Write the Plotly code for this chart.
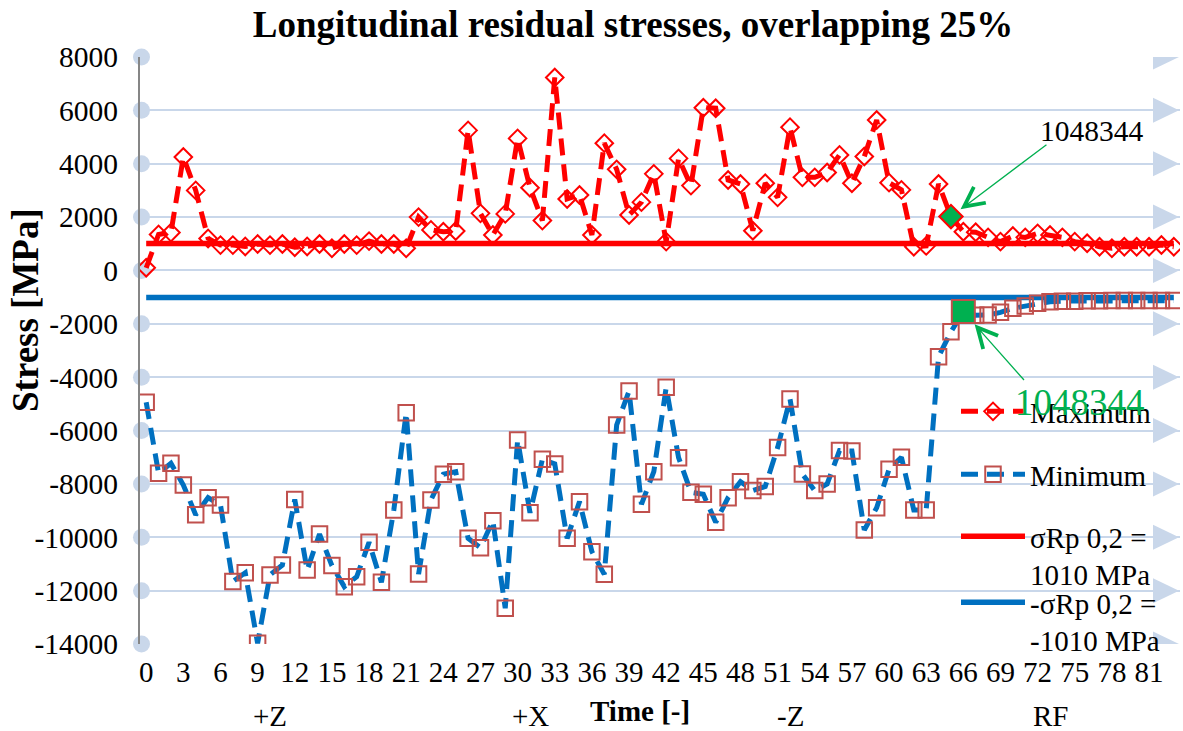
import plotly.graph_objects as go

# ---------------- data ----------------
time_idx = list(range(84))

maximum = [100, 1350, 1420, 4250, 3000, 1200, 950, 950, 900, 990,
           950, 990, 870, 900, 990, 830, 990, 950, 1100, 990,
           990, 830, 2000, 1520, 1450, 1480, 5250, 2140, 1330, 2120,
           4950, 3100, 1870, 7230, 2680, 2830, 1330, 4770, 3790, 2080,
           2560, 3620, 1080, 4200, 3180, 6100, 6080, 3390, 3240, 1490,
           3270, 2740, 5370, 3490, 3490, 3670, 4330, 3270, 4270, 5640,
           3290, 3020, 890, 920, 3240, 2020, 1450, 1430, 1240, 1080,
           1290, 1240, 1390, 1330, 1240, 1080, 1020, 890, 830, 890,
           890, 890, 955, 890]

minimum = [-4940, -7600, -7230, -8040, -9160, -8515, -8790, -11660, -11330, -13970,
           -11410, -11040, -8580, -11230, -9880, -11060, -11850, -11480, -10190, -11690,
           -8980, -5330, -11380, -8600, -7640, -7540, -10040, -10390, -9380, -12660,
           -6350, -9080, -7080, -7250, -10040, -8665, -10540, -11390, -5790, -4520,
           -8765, -7540, -4380, -7015, -8315, -8390, -9440, -8515, -7915, -8250,
           -8100, -6640, -4815, -7630, -8250, -8000, -6750, -6765, -9725, -8890,
           -7450, -7000, -8980, -8980, -3230, -2300, -1540, -1680, -1670, -1570,
           -1420, -1330, -1230, -1170, -1150, -1150, -1140, -1140, -1130, -1130,
           -1130, -1130, -1130, -1130]

yield_pos = 1010
yield_neg = -1010

x_ticks = list(range(0, 82, 3))
y_ticks = list(range(-14000, 8001, 2000))

groups = ["+Z", "+X", "-Z", "RF"]
group_size = 21

highlight_max_idx = 65
highlight_min_idx = 66
highlight_label = "1048344"

# ---------------- styles ----------------
FONT = "Liberation Serif"
RED = "#FF0000"
BLUE = "#0070C0"
SQ = "#C0504D"
GREEN = "#00B050"
GRID = "#C9D7EA"

W, H = 1183, 731
ML, MR, MT, MB = 140, 3, 57, 87
PW = W - ML - MR
PH = H - MT - MB


def px_x(p):
    return (p - ML) / PW


def px_y(p):
    return (H - MB - p) / PH


fig = go.Figure()

# grid-end circles (decoration at left of each gridline)
fig.add_trace(go.Scatter(
    x=[-0.38] * len(y_ticks), y=y_ticks, mode="markers",
    marker=dict(symbol="circle", size=17, color=GRID),
    showlegend=False, hoverinfo="skip", cliponaxis=False))

# yield lines
fig.add_trace(go.Scatter(
    x=time_idx, y=[yield_pos] * len(time_idx), mode="lines",
    name="σRp 0,2 =<br>1010 MPa", legend="legend3",
    line=dict(color=RED, width=5.5)))
fig.add_trace(go.Scatter(
    x=time_idx, y=[yield_neg] * len(time_idx), mode="lines",
    name="-σRp 0,2 =<br>-1010 MPa", legend="legend4",
    line=dict(color=BLUE, width=5.5)))

# series
fig.add_trace(go.Scatter(
    x=time_idx, y=maximum, mode="lines+markers", name="Maximum", legend="legend",
    line=dict(color=RED, width=5, dash="17px,9px"),
    marker=dict(symbol="diamond-open", size=13.5, color=RED, line=dict(width=2, color=RED))))
fig.add_trace(go.Scatter(
    x=time_idx, y=minimum, mode="lines+markers", name="Minimum", legend="legend2",
    line=dict(color=BLUE, width=5, dash="17px,9px"),
    marker=dict(symbol="square-open", size=15.5, color=SQ, line=dict(width=2, color=SQ))))

# highlighted points
fig.add_trace(go.Scatter(
    x=[time_idx[highlight_max_idx]], y=[maximum[highlight_max_idx]], mode="markers",
    marker=dict(symbol="diamond", size=18, color=GREEN, line=dict(width=2, color=RED)),
    showlegend=False, hoverinfo="skip"))
fig.add_trace(go.Scatter(
    x=[time_idx[highlight_min_idx]], y=[minimum[highlight_min_idx]], mode="markers",
    marker=dict(symbol="square", size=23, color=GREEN, line=dict(width=2, color=SQ)),
    showlegend=False, hoverinfo="skip"))

# triangles at right end of gridlines
shapes = []
for v in y_ticks:
    shapes.append(dict(
        type="path", xref="x", yref="y", xsizemode="pixel", ysizemode="pixel",
        xanchor=83.5, yanchor=v, path="M-27,-12.5 L-1,0 L-27,12.5 Z",
        fillcolor=GRID, line=dict(width=0), layer="below"))

annotations = []
# arrows + labels
annotations.append(dict(
    x=time_idx[highlight_max_idx], y=maximum[highlight_max_idx], xref="x", yref="y",
    text="", showarrow=True, ax=97, ay=-73, arrowhead=5, arrowsize=3, arrowwidth=1.3,
    arrowcolor=GREEN, standoff=12))
annotations.append(dict(
    x=px_x(1092), y=px_y(131), xref="paper", yref="paper", text=highlight_label,
    showarrow=False, font=dict(family=FONT, size=29.5, color="black"),
    xanchor="center", yanchor="middle"))
annotations.append(dict(
    x=time_idx[highlight_min_idx], y=minimum[highlight_min_idx], xref="x", yref="y",
    text="", showarrow=True, ax=62, ay=70, arrowhead=5, arrowsize=3, arrowwidth=1.3,
    arrowcolor=GREEN, standoff=17))
annotations.append(dict(
    x=px_x(1080), y=px_y(402), xref="paper", yref="paper", text=highlight_label,
    showarrow=False, font=dict(family=FONT, size=37, color=GREEN),
    xanchor="center", yanchor="middle"))

# category group labels
for i, g in enumerate(groups):
    annotations.append(dict(
        x=i * group_size + (group_size - 1) / 2, y=px_y(716), xref="x", yref="paper",
        text=g, showarrow=False, font=dict(family=FONT, size=29, color="black"),
        xanchor="center", yanchor="middle"))

# axis titles
annotations.append(dict(
    x=px_x(640), y=px_y(711), xref="paper", yref="paper", text="<b>Time [-]</b>",
    showarrow=False, font=dict(family=FONT, size=29, color="black"),
    xanchor="center", yanchor="middle"))
annotations.append(dict(
    x=px_x(25), y=px_y(310), xref="paper", yref="paper", text="<b>Stress [MPa]</b>",
    showarrow=False, textangle=-90, font=dict(family=FONT, size=37, color="black"),
    xanchor="center", yanchor="middle"))

legend_common = dict(xanchor="left", yanchor="top", bgcolor="rgba(0,0,0,0)",
                     borderwidth=0, itemwidth=64,
                     font=dict(family=FONT, size=29, color="black"))

fig.update_layout(
    width=W, height=H,
    margin=dict(l=ML, r=MR, t=MT, b=MB),
    paper_bgcolor="white", plot_bgcolor="white",
    font=dict(family=FONT, size=29, color="black"),
    title=dict(text="<b>Longitudinal residual stresses, overlapping 25%</b>",
               x=px_x(633), xref="paper", xanchor="center",
               y=1 - 24 / H, yref="container", yanchor="middle",
               font=dict(family=FONT, size=37, color="black")),
    xaxis=dict(range=[-0.5, 83.5], tickmode="array", tickvals=x_ticks,
               ticktext=[str(t) for t in x_ticks], showgrid=False, zeroline=False,
               showline=False, ticks="", ticklabelstandoff=8,
               tickfont=dict(family=FONT, size=29, color="black")),
    yaxis=dict(range=[-14000, 8000], tickmode="array", tickvals=y_ticks,
               ticktext=[str(v) for v in y_ticks],
               showgrid=True, gridcolor=GRID, gridwidth=2, zeroline=False,
               showline=True, linecolor="#868686", linewidth=2, ticks="",
               ticklabelstandoff=14,
               tickfont=dict(family=FONT, size=29.5, color="black")),
    legend=dict(x=px_x(956), y=px_y(386), **legend_common),
    legend2=dict(x=px_x(956), y=px_y(449), **legend_common),
    legend3=dict(x=px_x(956), y=px_y(511), valign="top", **legend_common),
    legend4=dict(x=px_x(956), y=px_y(577), valign="top", **legend_common),
    shapes=shapes,
    annotations=annotations,
    showlegend=True,
)

fig.write_html("out.html", config={"displayModeBar": False},
               post_script="document.body.style.margin='0px';")
